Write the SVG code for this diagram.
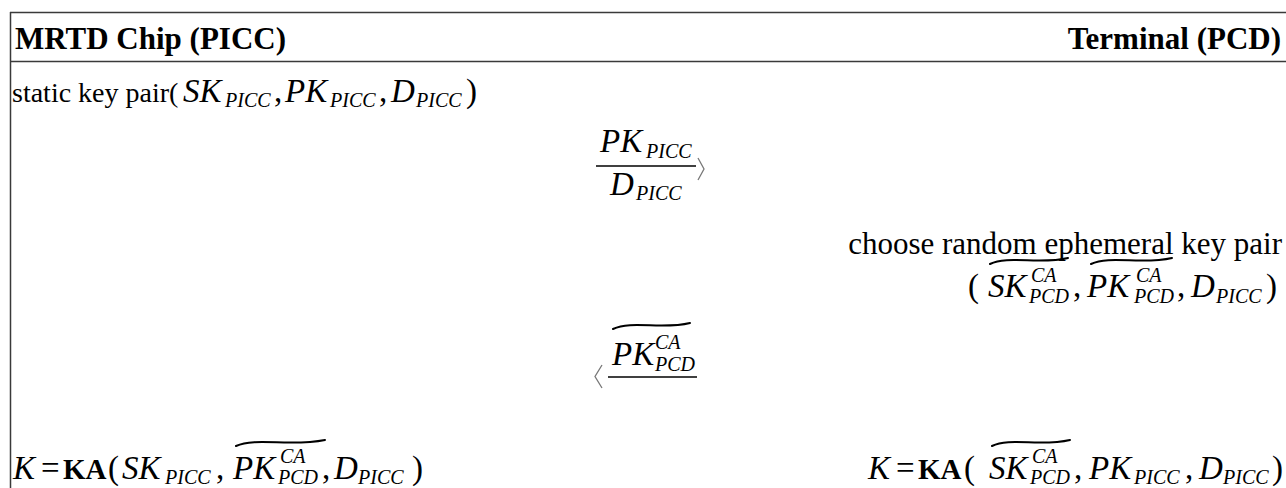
<svg xmlns="http://www.w3.org/2000/svg" width="1286" height="488" viewBox="0 0 1286 488">
<style>
.bg{fill:#fff}
.border{stroke:#3a3a3a;stroke-width:1.5;fill:none}
.hdr{font-family:"Liberation Serif",serif;font-weight:bold;font-size:31px;fill:#000}
.txt{font-family:"Liberation Serif",serif;font-size:31px;fill:#000}
.txt1{font-family:"Liberation Serif",serif;font-size:28px;fill:#000}
.mi{font-family:"Liberation Serif",serif;font-style:italic;font-size:33px;fill:#000}
.mr{font-family:"Liberation Serif",serif;font-size:33px;fill:#000}
.mb{font-family:"Liberation Serif",serif;font-weight:bold;font-size:29px;fill:#000}
.sb{font-family:"Liberation Serif",serif;font-style:italic;font-size:20px;fill:#000}
.tilde{stroke:#000;stroke-width:2;fill:none;stroke-linecap:round}
.fline{stroke:#000;stroke-width:1.6}
.angle{stroke:#777;stroke-width:1.3;fill:none}
</style>
<rect class="bg" x="0" y="0" width="1286" height="488"/>
<g id="table">
<line class="border" x1="10" y1="12.5" x2="1286" y2="12.5"/>
<line class="border" x1="10" y1="61.5" x2="1286" y2="61.5"/>
<line class="border" x1="10.5" y1="12" x2="10.5" y2="488"/>
</g>
<g id="hdr-picc"><text class="hdr" x="15" y="49">MRTD Chip (PICC)</text></g>
<g id="hdr-pcd"><text class="hdr" x="1281" y="49" text-anchor="end">Terminal (PCD)</text></g>
<g id="static-key">
<text class="txt1" x="12" y="102">static key pair(</text>
<text class="mi" x="183" y="102">SK</text><text class="sb" x="225" y="107">PICC</text>
<text class="mr" x="274" y="102">,</text>
<text class="mi" x="285" y="102">PK</text><text class="sb" x="330" y="107">PICC</text>
<text class="mr" x="379" y="102">,</text>
<text class="mi" x="391" y="102">D</text><text class="sb" x="416" y="107">PICC</text>
<text class="mr" x="466" y="102">)</text>
</g>
<g id="msg1-label">
<text class="mi" x="600" y="152">PK</text><text class="sb" x="646" y="158">PICC</text>
<text class="mi" x="610" y="195">D</text><text class="sb" x="636" y="200">PICC</text>
</g>
<g id="choose-eph">
<text class="txt" x="1282" y="254" text-anchor="end">choose random ephemeral key pair</text>
<text class="mr" x="968" y="297">(</text>
<path class="tilde" d="M990,264 C1008,255 1040,265 1068,258"/>
<text class="mi" x="988" y="297">SK</text><text class="sb" x="1031" y="282">CA</text><text class="sb" x="1029" y="303">PCD</text>
<text class="mr" x="1073" y="297">,</text>
<path class="tilde" d="M1091,264 C1110,255 1142,265 1172,258"/>
<text class="mi" x="1087" y="297">PK</text><text class="sb" x="1136" y="282">CA</text><text class="sb" x="1134" y="303">PCD</text>
<text class="mr" x="1177" y="297">,</text>
<text class="mi" x="1191" y="297">D</text><text class="sb" x="1216" y="303">PICC</text>
<text class="mr" x="1266" y="297">)</text>
</g>
<g id="msg2-label">
<path class="tilde" d="M613,329 C632,320 662,330 690,323"/>
<text class="mi" x="612" y="365">PK</text><text class="sb" x="655" y="349">CA</text><text class="sb" x="655" y="371">PCD</text>
</g>
<g id="ka-picc">
<text class="mi" x="13" y="479">K</text>
<text class="mr" x="41" y="479">=</text>
<text class="mb" x="63" y="479">KA</text>
<text class="mr" x="108" y="479">(</text>
<text class="mi" x="122" y="479">SK</text><text class="sb" x="165" y="484">PICC</text>
<text class="mr" x="216" y="479">,</text>
<path class="tilde" d="M236,446 C256,437 290,447 325,440"/>
<text class="mi" x="233" y="479">PK</text><text class="sb" x="280" y="463">CA</text><text class="sb" x="278" y="484">PCD</text>
<text class="mr" x="322" y="479">,</text>
<text class="mi" x="334" y="479">D</text><text class="sb" x="358" y="484">PICC</text>
<text class="mr" x="412" y="479">)</text>
</g>
<g id="ka-pcd">
<text class="mi" x="868" y="479">K</text>
<text class="mr" x="896" y="479">=</text>
<text class="mb" x="918" y="479">KA</text>
<text class="mr" x="964" y="479">(</text>
<path class="tilde" d="M992,446 C1010,437 1040,447 1070,440"/>
<text class="mi" x="989" y="479">SK</text><text class="sb" x="1032" y="463">CA</text><text class="sb" x="1030" y="484">PCD</text>
<text class="mr" x="1074" y="479">,</text>
<text class="mi" x="1089" y="479">PK</text><text class="sb" x="1134" y="484">PICC</text>
<text class="mr" x="1185" y="479">,</text>
<text class="mi" x="1199" y="479">D</text><text class="sb" x="1223" y="484">PICC</text>
<text class="mr" x="1272" y="479">)</text>
</g>
<g id="connectors">
<line class="fline" x1="596" y1="166" x2="696" y2="166"/>
<path class="angle" d="M698,158 L704,169 L698,180"/>
<line class="fline" x1="608" y1="377" x2="697" y2="377"/>
<path class="angle" d="M602,365 L595,376.5 L602,388"/>
</g>
</svg>
